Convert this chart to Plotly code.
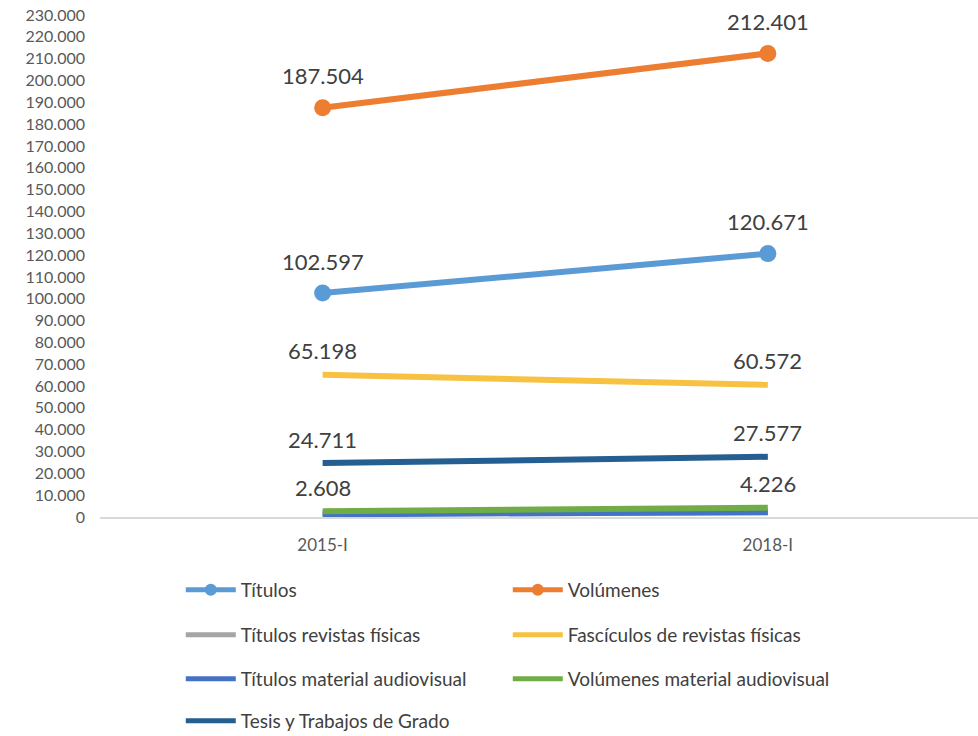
import plotly.graph_objects as go

# Periods compared
periods = ["2015-I", "2018-I"]

# Collection counts per period
titulos = [102597, 120671]
volumenes = [187504, 212401]
titulos_revistas = [1600, 2100]
fasciculos_revistas = [65198, 60572]
titulos_audiovisual = [1200, 2300]
volumenes_audiovisual = [2608, 4226]
tesis = [24711, 27577]

y_ticks = list(range(0, 230001, 10000))

FONT = "Lato"
TEXT_COLOR = "#404040"

series = [
    ("Títulos", titulos, "#5B9BD5", True, "legend", True),
    ("Volúmenes", volumenes, "#ED7D31", True, "legend", True),
    ("Títulos revistas físicas", titulos_revistas, "#A5A5A5", False, "legend2", False),
    ("Fascículos de revistas físicas", fasciculos_revistas, "#F7C242", False, "legend2", True),
    ("Títulos material audiovisual", titulos_audiovisual, "#4472C4", False, "legend3", False),
    ("Volúmenes material audiovisual", volumenes_audiovisual, "#70AD47", False, "legend3", True),
    ("Tesis y Trabajos de Grado", tesis, "#255E91", False, "legend4", True),
]

fig = go.Figure()
annotations = []
for name, vals, color, markers, legend, labelled in series:
    fig.add_trace(go.Scatter(
        x=periods, y=vals, name=name, legend=legend,
        mode="lines+markers" if markers else "lines",
        line=dict(color=color, width=6),
        marker=dict(size=17, color=color),
        hoverinfo="skip",
    ))
    if labelled:
        shift = 32 if markers else 24
        for p, v in zip(periods, vals):
            annotations.append(dict(
                x=p, y=v, xref="x", yref="y",
                text=f"{v:,}".replace(",", "."),
                showarrow=False, yshift=shift,
                font=dict(family=FONT, size=22, color=TEXT_COLOR),
            ))

legend_style = dict(
    orientation="h", entrywidth=262, entrywidthmode="pixels",
    xanchor="left", yanchor="middle", x=0.092,
    font=dict(family=FONT, size=19, color=TEXT_COLOR),
    bgcolor="rgba(0,0,0,0)", itemwidth=50, itemsizing="constant",
)

plot_top, plot_bottom, H = 15, 517, 736


def legend_y(px):
    # paper y of a pixel row, relative to the plot area
    return (plot_bottom - px) / (plot_bottom - plot_top)


fig.update_layout(
    width=978, height=736,
    margin=dict(l=100, r=0, t=plot_top, b=H - plot_bottom, autoexpand=False),
    paper_bgcolor="white", plot_bgcolor="white",
    separators=",.",
    showlegend=True,
    legend=dict(legend_style, y=legend_y(590)),
    legend2=dict(legend_style, y=legend_y(635)),
    legend3=dict(legend_style, y=legend_y(679)),
    legend4=dict(legend_style, y=legend_y(721)),
    annotations=annotations,
    xaxis=dict(
        type="category", range=[-0.5, 1.472],
        showgrid=False, showline=True, linecolor="#D9D9D9", linewidth=1.5,
        ticks="", tickfont=dict(family=FONT, size=17, color="#595959"),
        ticklabelstandoff=12, zeroline=False,
    ),
    yaxis=dict(
        range=[0, 230000], tickvals=y_ticks, tickformat=",d",
        showgrid=False, showline=False, zeroline=False,
        ticks="", ticklabelstandoff=14,
        tickfont=dict(family=FONT, size=16, color="#595959"),
    ),
)

fig.write_html("out.html")
